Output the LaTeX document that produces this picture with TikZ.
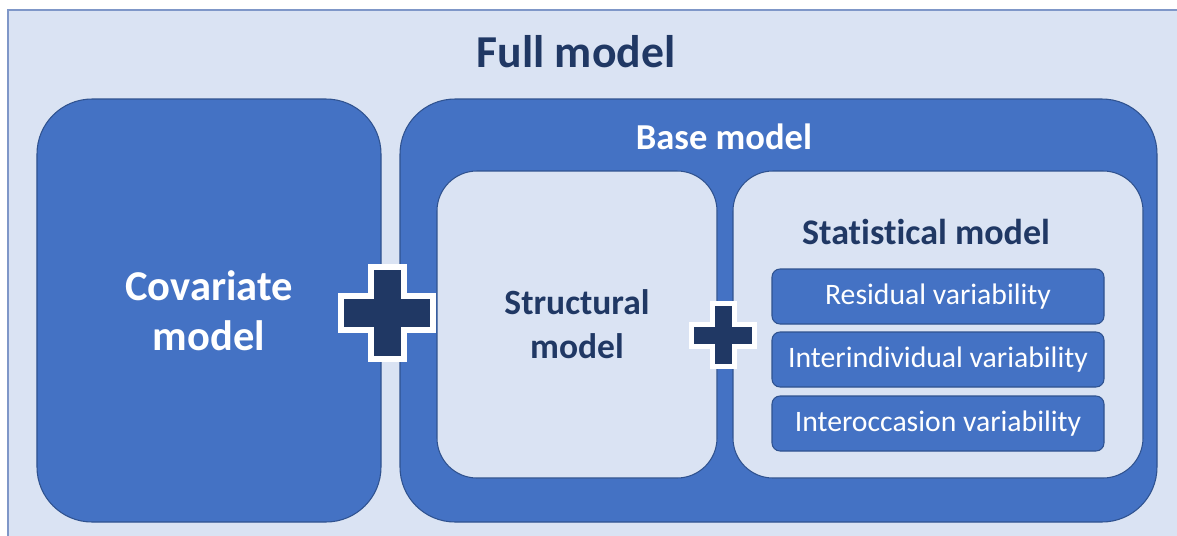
\documentclass[tikz,border=0pt]{standalone}
\usepackage{fontspec}
\setmainfont{Carlito}[Ligatures=NoCommon]
\usepackage{tikz}

\definecolor{paleblue}{HTML}{DAE3F3}
\definecolor{midblue}{HTML}{4472C4}
\definecolor{edgeblue}{HTML}{2F528F}
\definecolor{frameblue}{HTML}{7F97C8}
\definecolor{navy}{HTML}{203864}

\tikzset{
    bigbox/.style={draw=edgeblue, line width=0.6pt, fill=midblue, rounded corners=1.1cm},
    innerbox/.style={draw=edgeblue, line width=0.6pt, fill=paleblue, rounded corners=0.8cm},
    varbox/.style={draw=edgeblue, line width=0.6pt, fill=midblue, rounded corners=0.16cm,
        minimum width=6.64cm, minimum height=1.1cm, text=white, font=\fontsize{16.9}{20}\selectfont},
    plusmark/.style={fill=navy, draw=white, line join=miter}
}

\begin{document}
\begin{tikzpicture}
    \useasboundingbox (0,0) rectangle (23.54,-10.70);
    \clip (0,0) rectangle (23.54,-10.70);

    % Outer frame
    \draw[frameblue, line width=0.8pt, fill=paleblue] (0.16,-0.20) rectangle (24,-11);
    \node[text=navy, font=\fontsize{26}{30}\selectfont\bfseries] (full) at (11.52,-1.04) {Full model};

    % Covariate model
    \node[bigbox, minimum width=6.88cm, minimum height=8.46cm, text=white, align=center,
        font=\fontsize{24.2}{28.5}\selectfont\bfseries] (covariate) at (4.18,-6.21) {Covariate\\model};

    % Base model
    \node[bigbox, minimum width=15.14cm, minimum height=8.46cm] (base) at (15.57,-6.21) {};
    \node[text=white, font=\fontsize{20.8}{25}\selectfont\bfseries] (basetitle) at (14.48,-2.74) {Base model};

    % Structural model
    \node[innerbox, minimum width=5.6cm, minimum height=6.14cm, text=navy, align=center,
        font=\fontsize{20.2}{25}\selectfont\bfseries] (structural) at (11.54,-6.49) {Structural\\model};

    % Statistical model
    \node[innerbox, minimum width=8.2cm, minimum height=6.14cm] (statistical) at (18.76,-6.49) {};
    \node[text=navy, font=\fontsize{20.5}{24}\selectfont\bfseries] (stattitle) at (18.52,-4.64) {Statistical model};

    % Variability boxes
    \node[varbox] (residual) at (18.76,-5.93) {Residual variability};
    \node[varbox] (iiv) at (18.76,-7.19) {Interindividual variability};
    \node[varbox] (iov) at (18.76,-8.47) {Interoccasion variability};

    % Plus signs
    \draw[plusmark, line width=0.12cm, shift={(7.74,-6.26)}]
        (-0.33,0.92) -- (0.33,0.92) -- (0.33,0.34) -- (0.92,0.34) -- (0.92,-0.34) -- (0.33,-0.34)
        -- (0.33,-0.92) -- (-0.33,-0.92) -- (-0.33,-0.34) -- (-0.92,-0.34) -- (-0.92,0.34) -- (-0.33,0.34) -- cycle;
    \draw[plusmark, line width=0.1cm, shift={(14.46,-6.70)}]
        (-0.22,0.63) -- (0.22,0.63) -- (0.22,0.22) -- (0.63,0.22) -- (0.63,-0.22) -- (0.22,-0.22)
        -- (0.22,-0.63) -- (-0.22,-0.63) -- (-0.22,-0.22) -- (-0.63,-0.22) -- (-0.63,0.22) -- (-0.22,0.22) -- cycle;
\end{tikzpicture}
\end{document}
